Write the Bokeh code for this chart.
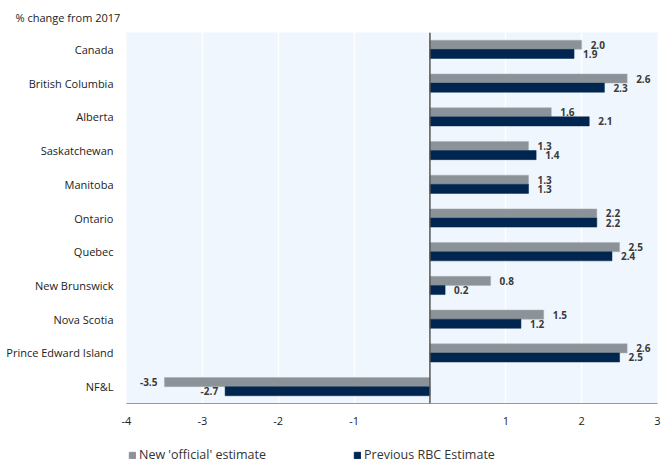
from bokeh.plotting import figure
from bokeh.layouts import column
from bokeh.models import (ColumnDataSource, FactorRange, Range1d, FixedTicker, Span,
                          Legend, LegendItem, PrintfTickFormatter)
from bokeh.transform import dodge
from bokeh.core.properties import value
from bokeh.embed import file_html
from bokeh.resources import INLINE

provinces = ["Canada", "British Columbia", "Alberta", "Saskatchewan", "Manitoba",
             "Ontario", "Quebec", "New Brunswick", "Nova Scotia",
             "Prince Edward Island", "NF&L"]
new_official = [2.0, 2.6, 1.6, 1.3, 1.3, 2.2, 2.5, 0.8, 1.5, 2.6, -3.5]
prev_rbc = [1.9, 2.3, 2.1, 1.4, 1.3, 2.2, 2.4, 0.2, 1.2, 2.5, -2.7]
x_ticks = [-4, -3, -2, -1, 1, 2, 3]
series_names = ["New 'official' estimate", "Previous RBC Estimate"]
title_text = "% change from 2017"

FONT = "Open Sans"
GRAY = "#8b9399"
NAVY = "#00264f"

p = figure(width=667, height=437, output_backend="svg", toolbar_location=None,
           y_range=FactorRange(factors=list(reversed(provinces)), range_padding=0),
           x_range=Range1d(-4, 3),
           min_border_left=126, min_border_right=10, min_border_top=32,
           min_border_bottom=34,
           title=title_text)
p.outline_line_color = None
p.background_fill_color = "#eff6fd"

p.title.align = "left"
p.title.offset = -111
p.title.text_font = FONT
p.title.text_font_size = "11px"
p.title.text_font_style = "normal"
p.title.text_color = "#222222"
p.title.standoff = 12
p.title.vertical_align = "top"

src = ColumnDataSource(dict(cat=provinces, new=new_official, prev=prev_rbc,
                            new_lbl=["%.1f" % v for v in new_official],
                            prev_lbl=["%.1f" % v for v in prev_rbc],
                            new_off=[9 if v >= 0 else -7 for v in new_official],
                            prev_off=[9 if v >= 0 else -7 for v in prev_rbc],
                            new_al=["left" if v >= 0 else "right" for v in new_official],
                            prev_al=["left" if v >= 0 else "right" for v in prev_rbc]))

p.hbar(y=dodge("cat", 0.135, range=p.y_range), left=0, right="new", height=0.27,
       source=src, fill_color=GRAY, line_color="#a9afb4", line_width=0.5)
p.hbar(y=dodge("cat", -0.135, range=p.y_range), left=0, right="prev", height=0.27,
       source=src, fill_color=NAVY, line_color=NAVY, line_width=0.5)

p.text(x="new", y=dodge("cat", 0.135, range=p.y_range), text="new_lbl", source=src,
       x_offset="new_off", text_align="new_al", text_baseline="middle",
       text_font=value(FONT), text_font_size="10px", text_font_style="bold",
       text_color="#3a3a3a")
p.text(x="prev", y=dodge("cat", -0.135, range=p.y_range), text="prev_lbl", source=src,
       x_offset="prev_off", text_align="prev_al", text_baseline="middle",
       text_font=value(FONT), text_font_size="10px", text_font_style="bold",
       text_color="#3a3a3a")

p.add_layout(Span(location=0, dimension="height", line_color="#555555", line_width=1.5))

p.xaxis.ticker = FixedTicker(ticks=x_ticks)
p.xaxis.formatter = PrintfTickFormatter(format="%d")
p.xaxis.major_tick_line_color = None
p.xaxis.minor_tick_line_color = None
p.xaxis.axis_line_color = "#999999"
p.xaxis.major_label_standoff = 7
p.xaxis.major_label_text_font = FONT
p.xaxis.major_label_text_font_size = "11px"
p.xaxis.major_label_text_color = "#222222"

p.yaxis.axis_line_color = None
p.yaxis.major_tick_line_color = None
p.yaxis.minor_tick_line_color = None
p.yaxis.major_label_standoff = 7
p.yaxis.major_label_text_font = FONT
p.yaxis.major_label_text_font_size = "11px"
p.yaxis.major_label_text_color = "#222222"

p.xgrid.ticker = FixedTicker(ticks=[-4, -3, -2, -1, 0, 1, 2, 3])
p.xgrid.grid_line_color = "white"
p.xgrid.grid_line_width = 1.5
p.ygrid.grid_line_color = None

# legend strip below the chart (its swatch glyphs sit outside the visible range)
p2 = figure(width=667, height=26, output_backend="svg", toolbar_location=None,
            x_range=Range1d(0, 1), y_range=Range1d(0, 1),
            x_axis_location=None, y_axis_location=None,
            min_border_left=126, min_border_right=10, min_border_top=0, min_border_bottom=0)
p2.outline_line_color = None
p2.xgrid.visible = False
p2.ygrid.visible = False
g1 = p2.hbar(y=[-5], left=[0], right=[0.1], height=0.1, fill_color=GRAY, line_color=GRAY)
g2 = p2.hbar(y=[-5], left=[0], right=[0.1], height=0.1, fill_color=NAVY, line_color=NAVY)

legend = Legend(items=[LegendItem(label=series_names[0], renderers=[g1]),
                       LegendItem(label=series_names[1], renderers=[g2])],
                orientation="horizontal", location=(2, 0),
                glyph_width=8, glyph_height=8, label_standoff=3, label_width=200,
                spacing=14, padding=0, margin=0,
                border_line_color=None, background_fill_alpha=0,
                label_text_font=FONT, label_text_font_size="12.5px",
                label_text_color="#333333")
p2.add_layout(legend)

layout = column(p, p2, spacing=0)
open("out.html", "w").write(file_html(layout, INLINE))
